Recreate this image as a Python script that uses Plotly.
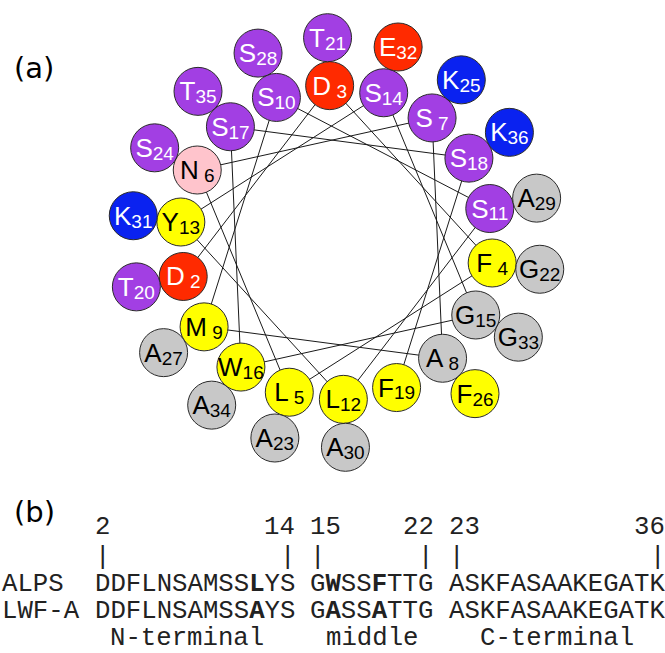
import plotly.graph_objects as go

# ---------------- data ----------------
# peptide sequence, residues 2..36
first_residue = 2
sequence = "DDFLNSAMSSLYSGWSSFTTGASKFASAAKEGATK"
residue_numbers = list(range(first_residue, first_residue + len(sequence)))

# alignment shown in panel (b)
row_names = ["ALPS", "LWF-A"]
row_segments = [
    ["DDFLNSAMSSLYS", "GWSSFTTG", "ASKFASAAKEGATK"],
    ["DDFLNSAMSSAYS", "GASSATTG", "ASKFASAAKEGATK"],
]
segment_bounds = [(2, 14), (15, 22), (23, 36)]
segment_names = ["N-terminal", "middle", "C-terminal"]
mutated_residues = [12, 16, 19]

# ---------------- styles ----------------
W, H = 665, 653
fill_by_type = {
    "S": "#a23fe3", "T": "#a23fe3",           # polar, uncharged
    "D": "#ff2a00", "E": "#ff2a00",           # acidic
    "K": "#0a22f0",                           # basic
    "F": "#ffff00", "L": "#ffff00", "M": "#ffff00",
    "W": "#ffff00", "Y": "#ffff00",           # hydrophobic / aromatic
    "A": "#c8c8c8", "G": "#c8c8c8",           # small
    "N": "#ffc4cc",                           # amide
}
light_text = {"S", "T", "D", "E", "K"}

# helical wheel geometry (screen pixels)
wheel_cx, wheel_cy = 336.5, 242.5
wheel_span = 230.0
inner_r, ring_step = 157.0, 48.0
per_ring = 18          # 18 residues = 5 full turns at 100 deg/residue

thetas = [100.0 * (n - first_residue) for n in residue_numbers]
radii = [inner_r + ring_step * ((n - first_residue) // per_ring) for n in residue_numbers]
fills = [fill_by_type[a] for a in sequence]
text_cols = ["white" if a in light_text else "black" for a in sequence]

# the trace font size only sets where the baseline sits relative to the disc
# centre; glyph sizes come from the spans, and the 14px wrapper makes the
# <sub> drop 0.3 * 70% * 14 px
label_base = 36
letter_px, number_px, sub_wrap_px = 26, 19, 14


def wheel_label(aa, num):
    num_txt = str(num) if num >= 10 else "\u00a0" + str(num)
    return (f"<span style=\"font-size:{letter_px}px\">{aa}</span>"
            f"<span style=\"font-size:{sub_wrap_px}px\"><sub>"
            f"<span style=\"font-size:{number_px}px\">{num_txt}</span></sub></span>")


labels = [wheel_label(a, n) for a, n in zip(sequence, residue_numbers)]

fig = go.Figure()

# backbone chords through the first ring
first_ring = [i for i, n in enumerate(residue_numbers) if (n - first_residue) < per_ring]
fig.add_trace(go.Scatterpolar(
    r=[radii[i] for i in first_ring],
    theta=[thetas[i] for i in first_ring],
    mode="lines",
    line=dict(color="#1a1a1a", width=1),
    hoverinfo="skip",
    showlegend=False,
))

# residue discs with their labels
fig.add_trace(go.Scatterpolar(
    r=radii,
    theta=thetas,
    mode="markers+text",
    marker=dict(size=48, color=fills, line=dict(color="#2a2a2a", width=1), opacity=1),
    text=labels,
    textposition="middle center",
    textfont=dict(family="Liberation Sans", size=label_base, color=text_cols),
    hoverinfo="skip",
    showlegend=False,
))

fig.update_layout(
    width=W, height=H,
    margin=dict(l=0, r=0, t=0, b=0),
    paper_bgcolor="white",
    plot_bgcolor="white",
    polar=dict(
        domain=dict(
            x=[(wheel_cx - wheel_span) / W, (wheel_cx + wheel_span) / W],
            y=[(H - wheel_cy - wheel_span) / H, (H - wheel_cy + wheel_span) / H],
        ),
        bgcolor="rgba(0,0,0,0)",
        radialaxis=dict(range=[0, wheel_span], visible=False),
        angularaxis=dict(visible=False, direction="clockwise", rotation=-167.5),
    ),
)

# ---------------- panel (b): aligned sequences ----------------
mono_size = 25.7
char_w = 0.6 * mono_size
name_width = 6
seg_starts = []
col = name_width
for seg in row_segments[0]:
    seg_starts.append(col)
    col += len(seg) + 1
total_cols = col - 1


def residue_col(res):
    for k, (lo, hi) in enumerate(segment_bounds):
        if lo <= res <= hi:
            return seg_starts[k] + (res - lo)
    return None


num_row = [" "] * total_cols
tick_row = [" "] * total_cols
for lo, hi in segment_bounds:
    c0, c1 = residue_col(lo), residue_col(hi)
    s0, s1 = str(lo), str(hi)
    for j, ch in enumerate(s0):
        num_row[c0 + j] = ch
    for j, ch in enumerate(s1):
        num_row[c1 - len(s1) + 1 + j] = ch
    tick_row[c0] = "|"
    tick_row[c1] = "|"

name_row = [" "] * total_cols
for (lo, hi), nm in zip(segment_bounds, segment_names):
    c0, c1 = residue_col(lo), residue_col(hi)
    start = c0 + ((c1 - c0 + 1) - len(nm)) // 2
    for j, ch in enumerate(nm):
        name_row[start + j] = ch

bold_cols = {residue_col(r) for r in mutated_residues}


def seq_cells(name, segs):
    return list(name.ljust(name_width)) + list(" ".join(segs))


def runs(cells, bold=frozenset()):
    """Split a fixed-width row into (start column, text) runs of non-blank cells."""
    out, i = [], 0
    while i < len(cells):
        if cells[i] == " ":
            i += 1
            continue
        j = i
        parts = []
        while j < len(cells) and cells[j] != " ":
            parts.append(f"<b>{cells[j]}</b>" if j in bold else cells[j])
            j += 1
        out.append((i, "".join(parts)))
        i = j
    return out


mono = dict(family="Liberation Mono", size=mono_size, color="#222222")
rows = [
    (runs(num_row), 527),
    (runs(tick_row), 557),
    (runs(seq_cells(row_names[0], row_segments[0]), bold_cols), 584),
    (runs(seq_cells(row_names[1], row_segments[1]), bold_cols), 611),
    (runs(name_row), 638),
]
x0 = 1.0
for pieces, ypix in rows:
    for c, txt in pieces:
        fig.add_annotation(
            x=(x0 + c * char_w) / W, xref="paper", xanchor="left",
            y=1 - ypix / H, yref="paper", yanchor="middle",
            text=txt, showarrow=False, font=mono, borderpad=0,
        )

# panel letters
for txt, xpix, ypix in [("(a)", 34, 68), ("(b)", 34, 512)]:
    fig.add_annotation(
        x=xpix / W, xref="paper", xanchor="center",
        y=1 - ypix / H, yref="paper", yanchor="middle",
        text=txt, showarrow=False, borderpad=0,
        font=dict(family="DejaVu Sans", size=29, color="black"),
    )

fig.write_html("out.html")
